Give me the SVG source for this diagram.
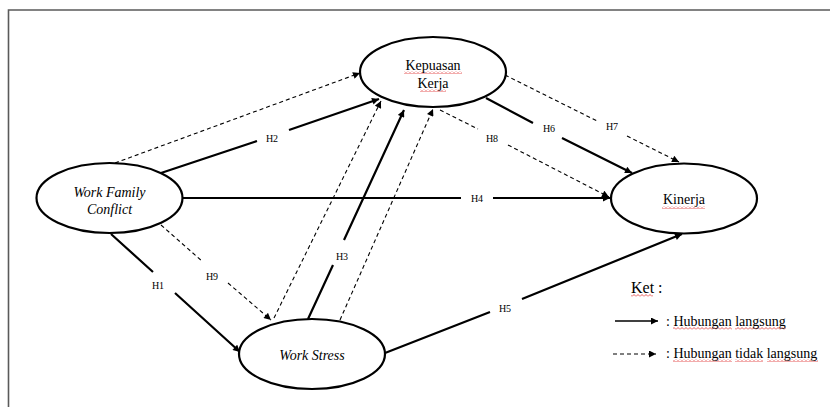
<svg xmlns="http://www.w3.org/2000/svg" width="830" height="407" viewBox="0 0 830 407">
<style>
.node ellipse{fill:#fff;stroke:#000;stroke-width:2.2}
.t{font-family:"Liberation Serif","Times New Roman",serif;font-size:14px;fill:#000;text-anchor:middle}
.it{font-style:italic}
.lbl{font-family:"Liberation Serif","Times New Roman",serif;font-size:10px;fill:#000;text-anchor:middle}
.solid{fill:none;stroke:#000;stroke-width:2.2;marker-end:url(#ah)}
.dash{fill:none;stroke:#000;stroke-width:1.1;stroke-dasharray:4 3;marker-end:url(#ah)}
.leg{font-family:"Liberation Serif","Times New Roman",serif;font-size:14px;fill:#000}
.sq{fill:url(#wave)}
</style>
<defs>
<marker id="ah" viewBox="0 0 10 10" refX="10" refY="5" markerWidth="8" markerHeight="7" markerUnits="userSpaceOnUse" orient="auto"><path d="M0,0 L10,5 L0,10 z" fill="#000"/></marker>
<pattern id="wave" width="4" height="3" patternUnits="userSpaceOnUse"><path d="M0,2.5 L2,0.5 L4,2.5" fill="none" stroke="#e03030" stroke-width="0.8"/></pattern>
</defs>
<rect width="830" height="407" fill="#fff"/>
<path d="M8.5,407 V10 H830" fill="none" stroke="#5a5a5a" stroke-width="1.6"/>

<g id="connectors">
<path id="h1" class="solid" d="M111,234 L153,272 M175,293 L240,352"/>
<path id="h2" class="solid" d="M161,173 L257,141 M289,130 L379,99"/>
<path id="h3" class="solid" d="M308,319 L333,265 M344,240 L404,110"/>
<path id="h4" class="solid" d="M183,198 L461,198 M493,198 L610,198"/>
<path id="h5" class="solid" d="M385,353 L490,312 M522,299 L682,234"/>
<path id="h6" class="solid" d="M486,98 L533,123 M562,138 L632,173"/>
<path id="h7" class="dash" d="M505,75 L597,121 M627,136 L679,162"/>
<path id="h8" class="dash" d="M440,110 L478,129 M508,145 L609,197"/>
<path id="h9" class="dash" d="M161,225 L203,262 M228,283 L271,320"/>
<path id="d1" class="dash" d="M115,163 L360,73"/>
<path id="d2" class="dash" d="M274,318 L381,101"/>
<path id="d3" class="dash" d="M340,320 L433,109"/>
<g id="labels">
<text class="lbl" x="158" y="289">H1</text>
<text class="lbl" x="272" y="142">H2</text>
<text class="lbl" x="342" y="260">H3</text>
<text class="lbl" x="477" y="202">H4</text>
<text class="lbl" x="505" y="312">H5</text>
<text class="lbl" x="549" y="132">H6</text>
<text class="lbl" x="612" y="130">H7</text>
<text class="lbl" x="492" y="142">H8</text>
<text class="lbl" x="212" y="280">H9</text>
</g>
</g>

<g id="kepuasan" class="node">
<ellipse cx="433" cy="72" rx="73" ry="35"/>
<rect class="sq" x="404" y="71" width="58" height="3"/>
<rect class="sq" x="420" y="89" width="26" height="3"/>
<text class="t" x="433" y="70">Kepuasan</text>
<text class="t" x="433" y="88">Kerja</text>
</g>
<g id="wfc" class="node">
<ellipse cx="109.5" cy="198" rx="73" ry="35"/>
<text class="t it" x="109.5" y="197">Work Family</text>
<text class="t it" x="109.5" y="214">Conflict</text>
</g>
<g id="ws" class="node">
<ellipse cx="312" cy="354" rx="73" ry="35"/>
<text class="t it" x="312" y="360">Work Stress</text>
</g>
<g id="kinerja" class="node">
<ellipse cx="684" cy="198.5" rx="73" ry="35"/>
<rect class="sq" x="662" y="206" width="43" height="3"/>
<text class="t" x="684" y="204">Kinerja</text>
</g>

<g id="legend">
<rect class="sq" x="631" y="294" width="22" height="3"/>
<text class="leg" x="631" y="293" style="font-size:16px">Ket :</text>
<path class="solid" style="stroke-width:1.3" d="M615,321 L658,321"/>
<rect class="sq" x="673" y="327" width="59" height="3"/>
<rect class="sq" x="735" y="327" width="51" height="3"/>
<text class="leg" x="666" y="326">: Hubungan langsung</text>
<path class="dash" style="stroke-width:1.2" d="M613,354 L656,354"/>
<rect class="sq" x="673" y="359" width="59" height="3"/>
<rect class="sq" x="735" y="359" width="28" height="3"/>
<rect class="sq" x="767" y="359" width="51" height="3"/>
<text class="leg" x="666" y="358">: Hubungan tidak langsung</text>
</g>
</svg>
